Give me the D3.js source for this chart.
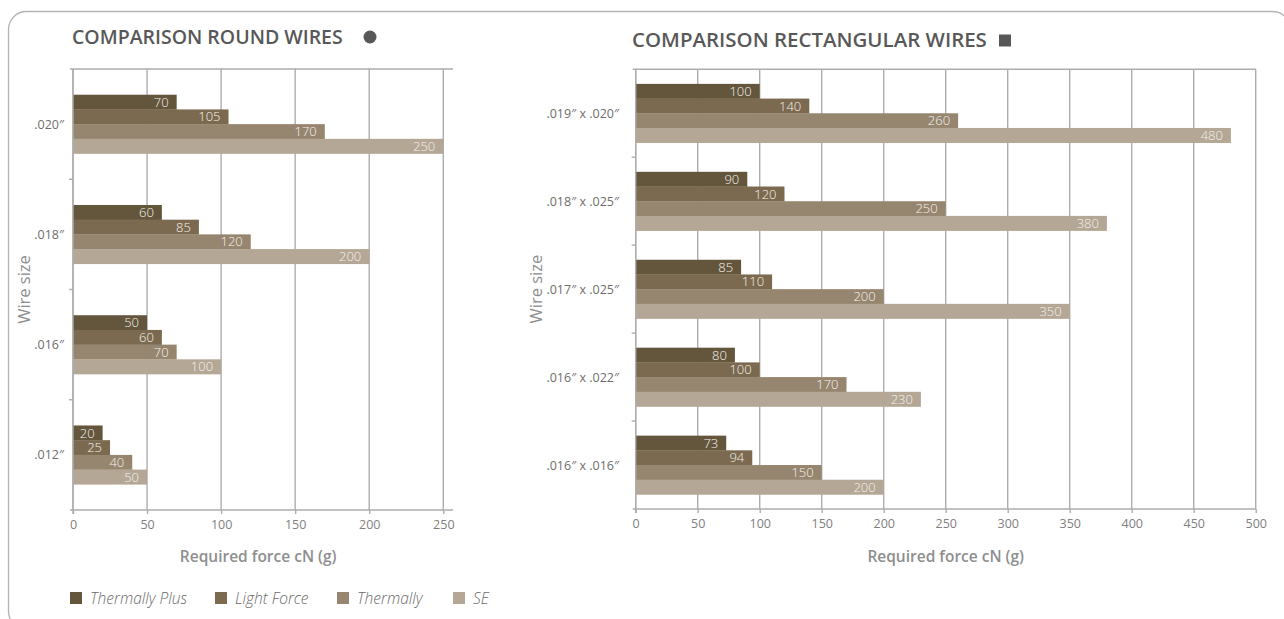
<!DOCTYPE html>
<html>
<head>
<meta charset="utf-8">
<script src="https://cdn.jsdelivr.net/npm/d3@7"></script>
<style>
  html, body { margin: 0; padding: 0; background: #ffffff; }
  svg { display: block; }
  text { font-family: "Open Sans", "DejaVu Sans", sans-serif; }
</style>
</head>
<body>
<svg id="chart" width="1284" height="619"></svg>
<script>
// Series names and colours
const seriesNames = ["Thermally Plus", "Light Force", "Thermally", "SE"];
const seriesColors = ["#63563d", "#7b6a50", "#968670", "#b4a796"];

// Round wires (required force, cN)
const roundSizes = [".020″", ".018″", ".016″", ".012″"];
const roundThermallyPlus = [70, 60, 50, 20];
const roundLightForce = [105, 85, 60, 25];
const roundThermally = [170, 120, 70, 40];
const roundSE = [250, 200, 100, 50];
const roundTicks = [0, 50, 100, 150, 200, 250];

// Rectangular wires (required force, cN)
const rectSizes = [".019″ x .020″", ".018″ x .025″", ".017″ x .025″", ".016″ x .022″", ".016″ x .016″"];
const rectThermallyPlus = [100, 90, 85, 80, 73];
const rectLightForce = [140, 120, 110, 100, 94];
const rectThermally = [260, 250, 200, 170, 150];
const rectSE = [480, 380, 350, 230, 200];
const rectTicks = [0, 50, 100, 150, 200, 250, 300, 350, 400, 450, 500];

const svg = d3.select("#chart");

// Outer rounded frame
svg.append("rect")
  .attr("x", 8.5).attr("y", 11.5)
  .attr("width", 1282).attr("height", 618)
  .attr("rx", 18).attr("ry", 18)
  .attr("fill", "none").attr("stroke", "#b3b3b3").attr("stroke-width", 1.3);

const gridColor = "#adadad";

function drawChart(opt) {
  const series = [opt.tp, opt.lf, opt.th, opt.se];
  const g = svg.append("g");

  const x = d3.scaleLinear().domain([0, opt.max]).range([opt.left, opt.right]);
  const y = d3.scaleBand().domain(opt.sizes).range([opt.top, opt.bottom]).padding(0);
  const groupH = 58.8;
  const inner = d3.scaleBand().domain(d3.range(series.length))
    .range([0, groupH]).padding(0);

  // Title, sized to span its heading width
  const title = g.append("text")
    .attr("x", opt.titleX).attr("y", opt.titleY)
    .attr("font-size", 19).attr("font-weight", 600)
    .attr("fill", "#585858")
    .text(opt.title);
  const w = title.node().getComputedTextLength();
  title.attr("font-size", 19 * opt.titleWidth / w);

  // Vertical grid lines
  g.append("g").selectAll("line").data(opt.ticks).join("line")
    .attr("x1", d => x(d)).attr("x2", d => x(d))
    .attr("y1", opt.top).attr("y2", opt.bottom)
    .attr("stroke", gridColor).attr("stroke-width", 1.4);

  // Top frame line
  g.append("line")
    .attr("x1", opt.left - 3).attr("x2", opt.frameRight)
    .attr("y1", opt.top).attr("y2", opt.top)
    .attr("stroke", gridColor).attr("stroke-width", 1.4);

  // Bars
  opt.sizes.forEach((size, i) => {
    const y0 = y(size) + (y.bandwidth() - groupH) / 2;
    series.forEach((vals, s) => {
      const by = y0 + inner(s);
      g.append("rect")
        .attr("x", x(0)).attr("y", by)
        .attr("width", x(vals[i]) - x(0))
        .attr("height", inner.bandwidth() + 0.3)
        .attr("fill", seriesColors[s]);
      g.append("text")
        .attr("x", x(vals[i]) - 8)
        .attr("y", by + inner.bandwidth() / 2)
        .attr("dy", "0.36em")
        .attr("text-anchor", "end")
        .attr("font-size", 13).attr("font-weight", 300)
        .attr("fill", "#f6f2ec")
        .text(vals[i]);
    });
  });

  // Bottom axis
  const xAxis = d3.axisBottom(x).tickValues(opt.ticks).tickSize(4).tickPadding(6)
    .tickFormat(d3.format("d"));
  const ax = g.append("g").attr("transform", `translate(0,${opt.bottom})`).call(xAxis);
  ax.select(".domain").remove();
  ax.selectAll(".tick line").attr("stroke", gridColor).attr("stroke-width", 1.4);
  ax.selectAll(".tick text")
    .attr("font-family", "'Open Sans', sans-serif")
    .attr("font-size", 12.5).attr("font-weight", 400).attr("fill", "#808080");
  g.append("line")
    .attr("x1", opt.left - 3).attr("x2", opt.frameRight)
    .attr("y1", opt.bottom).attr("y2", opt.bottom)
    .attr("stroke", gridColor).attr("stroke-width", 1.4);

  // Left axis with ticks at band boundaries
  g.append("line")
    .attr("x1", opt.left).attr("x2", opt.left)
    .attr("y1", opt.top).attr("y2", opt.bottom + 4)
    .attr("stroke", gridColor).attr("stroke-width", 1.4);
  const boundaries = opt.sizes.slice(1).map(s => y(s));
  g.append("g").selectAll("line").data(boundaries).join("line")
    .attr("x1", opt.left - 4).attr("x2", opt.left)
    .attr("y1", d => d).attr("y2", d => d)
    .attr("stroke", gridColor).attr("stroke-width", 1.4);

  // Category labels
  g.append("g").selectAll("text").data(opt.sizes).join("text")
    .attr("x", opt.labelRight)
    .attr("y", d => y(d) + y.bandwidth() / 2)
    .attr("dy", "0.36em")
    .attr("text-anchor", "end")
    .attr("font-size", 12.5).attr("font-weight", 400)
    .attr("fill", "#6e6e6e")
    .text(d => d);

  // Axis titles
  g.append("text")
    .attr("transform", `translate(${opt.wireX},${(opt.top + opt.bottom) / 2}) rotate(-90)`)
    .attr("text-anchor", "middle")
    .attr("font-size", 16.5).attr("font-weight", 400)
    .attr("fill", "#8c8c8c")
    .text("Wire size");

  g.append("text")
    .attr("x", (x(0) + x(opt.max)) / 2).attr("y", 562)
    .attr("text-anchor", "middle")
    .attr("font-size", 15.5).attr("font-weight", 600)
    .attr("fill", "#8e8e8e")
    .text("Required force cN (g)");

  return g;
}

const gRound = drawChart({
  title: "COMPARISON ROUND WIRES", titleX: 72, titleY: 43.5, titleWidth: 271,
  sizes: roundSizes, tp: roundThermallyPlus, lf: roundLightForce, th: roundThermally, se: roundSE,
  ticks: roundTicks, max: 250,
  left: 73, right: 443.3, frameRight: 453,
  top: 69, bottom: 510, labelRight: 64, wireX: 30
});
gRound.append("circle").attr("cx", 370).attr("cy", 37).attr("r", 6.5).attr("fill", "#585858");

const gRect = drawChart({
  title: "COMPARISON RECTANGULAR WIRES", titleX: 632, titleY: 46.5, titleWidth: 355,
  sizes: rectSizes, tp: rectThermallyPlus, lf: rectLightForce, th: rectThermally, se: rectSE,
  ticks: rectTicks, max: 500,
  left: 635.7, right: 1255.7, frameRight: 1256,
  top: 69.3, bottom: 509, labelRight: 619, wireX: 542
});
gRect.append("rect").attr("x", 999).attr("y", 34.5).attr("width", 12).attr("height", 12).attr("fill", "#585858");

// Legend
const legendX = [70, 215, 337, 453];
const legend = svg.append("g").selectAll("g").data(seriesNames).join("g")
  .attr("transform", (d, i) => `translate(${legendX[i]},592)`);
legend.append("rect").attr("width", 12).attr("height", 12)
  .attr("fill", (d, i) => seriesColors[i]);
legend.append("text")
  .attr("x", 20).attr("y", 6).attr("dy", "0.36em")
  .attr("font-size", 15.5).attr("font-style", "italic").attr("font-weight", 300)
  .attr("fill", "#6a6a6a")
  .text(d => d);
</script>
</body>
</html>
